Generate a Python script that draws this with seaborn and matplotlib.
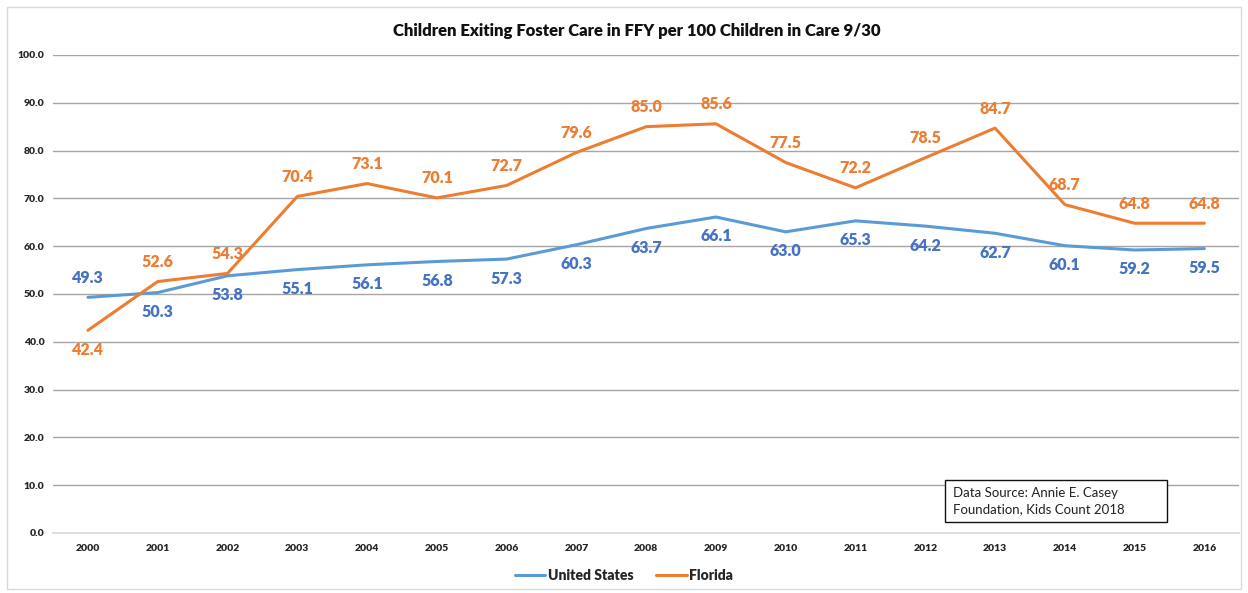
import matplotlib
matplotlib.use("Agg")
import matplotlib.pyplot as plt
import seaborn as sns
import pandas as pd
from matplotlib.patches import Rectangle
from matplotlib.lines import Line2D

years = list(range(2000, 2017))
us_values = [49.3, 50.3, 53.8, 55.1, 56.1, 56.8, 57.3, 60.3, 63.7, 66.1, 63.0, 65.3, 64.2, 62.7, 60.1, 59.2, 59.5]
fl_values = [42.4, 52.6, 54.3, 70.4, 73.1, 70.1, 72.7, 79.6, 85.0, 85.6, 77.5, 72.2, 78.5, 84.7, 68.7, 64.8, 64.8]
us_label_above = [True] + [False] * 16
fl_label_above = [False] + [True] * 16
series_names = ["United States", "Florida"]
title = "Children Exiting Foster Care in FFY per 100 Children in Care 9/30"
source_text = "Data Source: Annie E. Casey\nFoundation, Kids Count 2018"

sns.set_theme(style="white")
plt.rcParams["font.family"] = ["Lato", "DejaVu Sans"]

line_colors = {"United States": "#5b9bd5", "Florida": "#ed7d31"}
text_colors = {"United States": "#4472c4", "Florida": "#ed7d31"}

df = pd.DataFrame({
    "year": years * 2,
    "value": us_values + fl_values,
    "series": [series_names[0]] * len(years) + [series_names[1]] * len(years),
})

fig = plt.figure(figsize=(12.48, 5.93), dpi=100)
ax = fig.add_axes([0.0425, 0.1012, 0.9505, 0.8061])

fig.patches.append(Rectangle((0.006, 0.006), 0.988, 0.982, transform=fig.transFigure,
                             fill=False, edgecolor="#d9d9d9", linewidth=1))

sns.lineplot(data=df, x="year", y="value", hue="series", palette=line_colors,
             linewidth=2.2, ax=ax, legend=False, sort=False)

ax.set_xlim(years[0] - 0.5, years[-1] + 0.5)
ax.set_ylim(0, 100)
ax.set_yticks(range(0, 101, 10))
ax.set_yticklabels([f"{v:.1f}" for v in range(0, 101, 10)])
ax.set_xticks(years)
ax.set_xticklabels([str(y) for y in years])
ax.tick_params(axis="both", length=0, labelsize=7.5, labelcolor="#262626")
ax.tick_params(axis="x", pad=8)
ax.tick_params(axis="y", pad=6)
for lab in ax.get_xticklabels() + ax.get_yticklabels():
    lab.set_fontweight("heavy")
ax.set_xlabel("")
ax.set_ylabel("")
for s in ["top", "right", "left"]:
    ax.spines[s].set_visible(False)
ax.spines["bottom"].set_color("#d9d9d9")
ax.spines["bottom"].set_linewidth(1.2)
for v in range(10, 101, 10):
    ax.axhline(v, color="#a6a6a6", linewidth=1.0, zorder=0)

for name, vals, above in [(series_names[0], us_values, us_label_above),
                          (series_names[1], fl_values, fl_label_above)]:
    for x, v, a in zip(years, vals, above):
        ax.annotate(f"{v:.1f}", (x, v), xytext=(0, 14 if a else -14),
                    textcoords="offset points", ha="center", va="center",
                    fontsize=11.5, fontweight="heavy", color=text_colors[name])

fig.text(0.51, 0.948, title, ha="center", va="center", fontsize=12, fontweight="heavy", color="#111111")

handles = [Line2D([], [], color=line_colors[n], linewidth=2.2) for n in series_names]
fig.legend(handles, series_names, loc="center", bbox_to_anchor=(0.5, 0.029), ncol=2,
           frameon=False, handlelength=2.2, handletextpad=0.2, columnspacing=1.6,
           prop={"weight": "heavy", "size": 10})

# source box (fixed size, as in the reference)
ax.add_patch(Rectangle((0.752, 0.023), 0.1872, 0.088, transform=ax.transAxes,
                       facecolor="white", edgecolor="#111111", linewidth=1, zorder=5))
ax.text(0.759, 0.067, source_text, transform=ax.transAxes, ha="left", va="center",
        fontsize=9.5, color="#222222", linespacing=1.45, zorder=6)

fig.savefig("out.png", dpi=100)
